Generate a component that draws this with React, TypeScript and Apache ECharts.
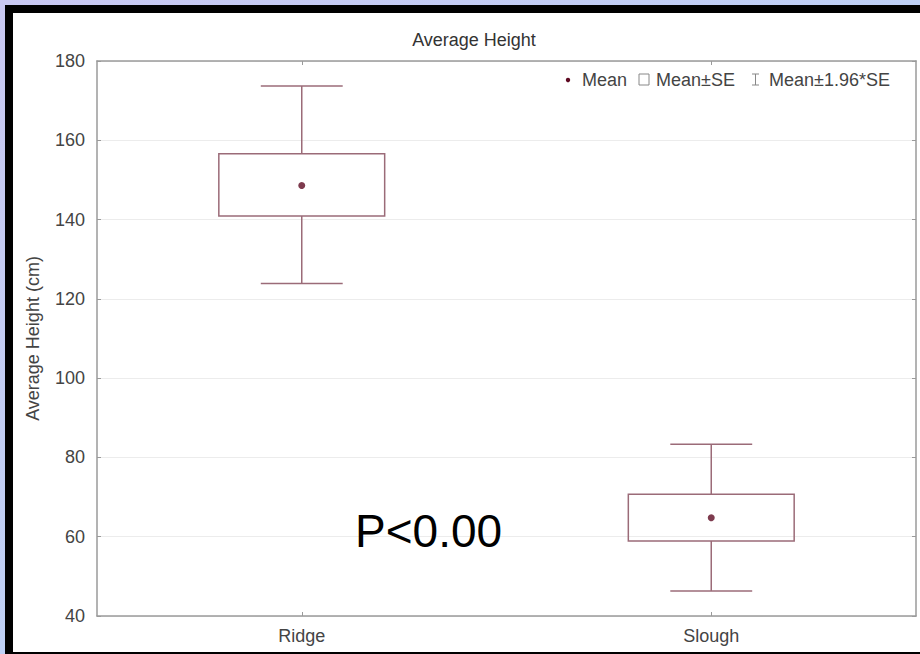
import { useEffect, useRef } from "react";
import * as echarts from "echarts";

// Group names and summary statistics (cm)
const categories = ["Ridge", "Slough"];
const means = [148.6, 64.8];
const seLow = [140.9, 58.9];
const seHigh = [156.6, 70.7];
const ciLow = [123.9, 46.3];
const ciHigh = [173.7, 83.3];

// Value axis range
const yMin = 40;
const yMax = 180;
const yStep = 20;

const BOX_COLOR = "#9b6b78";
const MEAN_COLOR = "#5e0a22";
const AXIS_COLOR = "#9a9a9a";
const TEXT_COLOR = "#444";
const FONT = "Arial, 'Liberation Sans', sans-serif";

export default function App() {
  const ref = useRef<HTMLDivElement>(null);

  useEffect(() => {
    if (!ref.current) return;
    const chart = echarts.init(ref.current, undefined, { renderer: "svg" });

    const boxData = categories.map((_, i) => [i, seLow[i], seHigh[i]]);
    const whiskerData = categories.map((_, i) => [i, ciLow[i], seLow[i], seHigh[i], ciHigh[i]]);
    const meanData = categories.map((_, i) => [i, means[i]]);

    const legendY = 80;

    chart.setOption({
      animation: false,
      backgroundColor: {
        type: "linear",
        x: 0,
        y: 0,
        x2: 1,
        y2: 1,
        colorStops: [
          { offset: 0, color: "#c9c8f2" },
          { offset: 0.5, color: "#bfd0f5" },
          { offset: 1, color: "#c7c4f0" },
        ],
      },
      title: {
        text: "Average Height",
        left: 469,
        top: 35,
        textAlign: "center",
        textVerticalAlign: "middle",
        textStyle: { fontFamily: FONT, fontSize: 18, fontWeight: "normal", color: "#333" },
      },
      grid: { left: 97, right: 4, top: 61, bottom: 38, containLabel: false },
      xAxis: [
        {
          type: "category",
          data: categories,
          position: "bottom",
          axisLine: { show: true, lineStyle: { color: AXIS_COLOR, width: 1.5 } },
          axisTick: { show: true, inside: true, alignWithLabel: true, length: 4, lineStyle: { color: AXIS_COLOR } },
          axisLabel: { margin: 11, fontFamily: FONT, fontSize: 18, color: TEXT_COLOR },
          splitLine: { show: false },
        },
        {
          type: "category",
          data: categories,
          position: "top",
          axisLine: { show: true, lineStyle: { color: AXIS_COLOR, width: 1.5 } },
          axisTick: { show: true, inside: true, alignWithLabel: true, length: 4, lineStyle: { color: AXIS_COLOR } },
          axisLabel: { show: false },
          splitLine: { show: false },
        },
      ],
      yAxis: [
        {
          type: "value",
          min: yMin,
          max: yMax,
          interval: yStep,
          position: "left",
          name: "Average Height (cm)",
          nameLocation: "middle",
          nameGap: 55,
          nameRotate: 90,
          nameTextStyle: { fontFamily: FONT, fontSize: 18, color: TEXT_COLOR },
          axisLine: { show: true, lineStyle: { color: AXIS_COLOR, width: 1.5 } },
          axisTick: { show: true, inside: true, length: 4, lineStyle: { color: AXIS_COLOR } },
          axisLabel: { margin: 12, fontFamily: FONT, fontSize: 18, color: TEXT_COLOR },
          splitLine: { show: true, lineStyle: { color: "#ececec", width: 1 } },
        },
        {
          type: "value",
          min: yMin,
          max: yMax,
          interval: yStep,
          position: "right",
          axisLine: { show: true, lineStyle: { color: AXIS_COLOR, width: 1.5 } },
          axisTick: { show: true, inside: true, length: 4, lineStyle: { color: AXIS_COLOR } },
          axisLabel: { show: false },
          splitLine: { show: false },
        },
      ],
      series: [
        {
          name: "Mean±1.96*SE",
          type: "custom",
          xAxisIndex: 0,
          yAxisIndex: 0,
          data: whiskerData,
          z: 2,
          renderItem: (_params: any, api: any) => {
            const x = api.value(0);
            const bottom = api.coord([x, api.value(1)]);
            const boxLow = api.coord([x, api.value(2)]);
            const boxHigh = api.coord([x, api.value(3)]);
            const top = api.coord([x, api.value(4)]);
            const band = api.size([1, 0])[0];
            const cap = band * 0.2;
            const style = { stroke: BOX_COLOR, lineWidth: 1.5, fill: "none" };
            return {
              type: "group",
              children: [
                { type: "line", shape: { x1: top[0], y1: top[1], x2: boxHigh[0], y2: boxHigh[1] }, style },
                { type: "line", shape: { x1: boxLow[0], y1: boxLow[1], x2: bottom[0], y2: bottom[1] }, style },
                { type: "line", shape: { x1: top[0] - cap / 2, y1: top[1], x2: top[0] + cap / 2, y2: top[1] }, style },
                { type: "line", shape: { x1: bottom[0] - cap / 2, y1: bottom[1], x2: bottom[0] + cap / 2, y2: bottom[1] }, style },
              ],
            };
          },
        },
        {
          name: "Mean±SE",
          type: "custom",
          xAxisIndex: 0,
          yAxisIndex: 0,
          data: boxData,
          z: 3,
          renderItem: (_params: any, api: any) => {
            const x = api.value(0);
            const lo = api.coord([x, api.value(1)]);
            const hi = api.coord([x, api.value(2)]);
            const band = api.size([1, 0])[0];
            const w = band * 0.405;
            return {
              type: "rect",
              shape: { x: lo[0] - w / 2, y: hi[1], width: w, height: lo[1] - hi[1] },
              style: { fill: "none", stroke: BOX_COLOR, lineWidth: 1.5 },
            };
          },
        },
        {
          name: "Mean",
          type: "scatter",
          xAxisIndex: 0,
          yAxisIndex: 0,
          data: meanData,
          symbol: "circle",
          symbolSize: 7,
          itemStyle: { color: MEAN_COLOR },
          z: 4,
        },
      ],
      graphic: [
        // slide frame behind the chart panel
        {
          type: "rect",
          z: -10,
          silent: true,
          shape: { x: 5, y: 5, width: 915, height: 649 },
          style: { fill: "#000" },
        },
        {
          type: "rect",
          z: -9,
          silent: true,
          shape: { x: 13, y: 13, width: 907, height: 639 },
          style: { fill: "#ffffff" },
        },
        // legend
        {
          type: "circle",
          shape: { cx: 568, cy: legendY, r: 2.2 },
          style: { fill: MEAN_COLOR },
        },
        {
          type: "text",
          x: 582,
          y: legendY,
          style: { text: "Mean", fontFamily: FONT, fontSize: 18, fill: TEXT_COLOR, verticalAlign: "middle", align: "left" },
        },
        {
          type: "rect",
          shape: { x: 639, y: legendY - 6, width: 10, height: 11 },
          style: { fill: "#fff", stroke: "#888", lineWidth: 1 },
        },
        {
          type: "text",
          x: 656,
          y: legendY,
          style: { text: "Mean±SE", fontFamily: FONT, fontSize: 18, fill: TEXT_COLOR, verticalAlign: "middle", align: "left" },
        },
        {
          type: "line",
          shape: { x1: 755.5, y1: legendY - 6, x2: 755.5, y2: legendY + 5 },
          style: { stroke: "#888", lineWidth: 1 },
        },
        {
          type: "line",
          shape: { x1: 752, y1: legendY - 6, x2: 759, y2: legendY - 6 },
          style: { stroke: "#888", lineWidth: 1 },
        },
        {
          type: "line",
          shape: { x1: 752, y1: legendY + 5, x2: 759, y2: legendY + 5 },
          style: { stroke: "#888", lineWidth: 1 },
        },
        {
          type: "text",
          x: 769,
          y: legendY,
          style: { text: "Mean±1.96*SE", fontFamily: FONT, fontSize: 18, fill: TEXT_COLOR, verticalAlign: "middle", align: "left" },
        },
        // significance annotation
        {
          type: "text",
          x: 355,
          y: 531,
          z: 10,
          style: { text: "P<0.00", fontFamily: FONT, fontSize: 46, fill: "#000", verticalAlign: "middle", align: "left" },
        },
      ],
    });

    return () => chart.dispose();
  }, []);

  return (
    <div
      ref={ref}
      style={{ position: "fixed", left: 0, top: 0, width: 920, height: 654 }}
    />
  );
}
